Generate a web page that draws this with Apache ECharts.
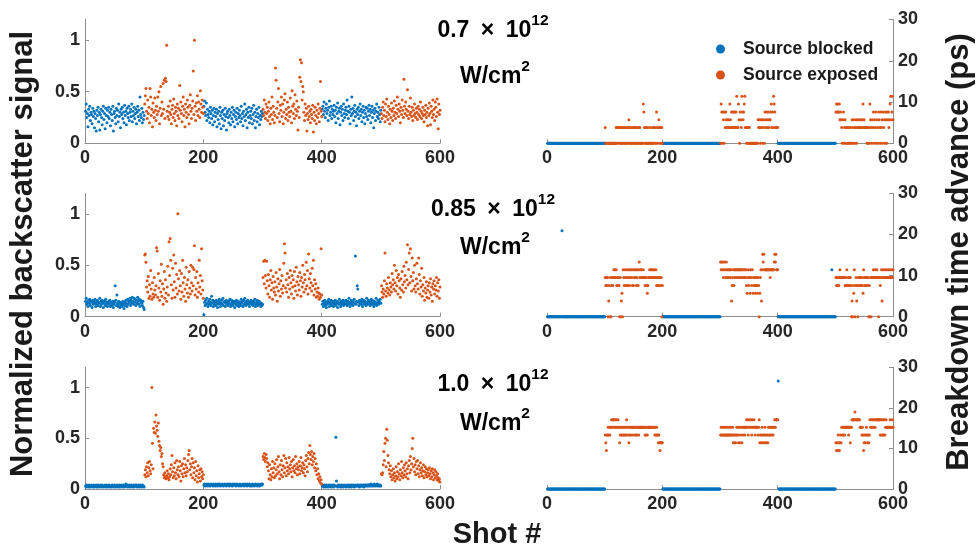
<!DOCTYPE html>
<html>
<head>
<meta charset="utf-8">
<title>Backscatter signal and breakdown time advance vs shot</title>
<script src="https://cdn.jsdelivr.net/npm/echarts@6/dist/echarts.min.js"></script>
<style>
  html, body { margin: 0; padding: 0; background: #fff; }
  #chart { width: 979px; height: 548px; }
</style>
</head>
<body>
<div id="chart"></div>
<script>
// Shot numbering: 600 shots, source alternates blocked/exposed every 100 shots (starting blocked).
const SHOT_COUNT = 600;
const BLOCK_LENGTH = 100;
const SERIES_NAMES = ['Source blocked', 'Source exposed'];
const INTENSITIES = ['0.7', '0.85', '1.0'];
const X_TICKS = [0, 200, 400, 600];
const SIGNAL_TICKS = [0, 0.5, 1];
const ADVANCE_TICKS = [0, 10, 20, 30];

// Normalized backscatter signal, shots 1..600, at 0.7e12 W/cm^2
const sig07 = [
.31,.38,.25,.29,.16,.33,.27,.36,.22,.30,.28,.19,.34,.26,.31,.15,.29,.24,.12,.32,
.27,.35,.21,.30,.13,.28,.33,.25,.18,.31,.36,.23,.29,.14,.34,.27,.20,.32,.26,.35,
.24,.30,.17,.33,.28,.22,.36,.12,.29,.31,.25,.19,.34,.27,.32,.21,.38,.26,.30,.15,
.33,.28,.35,.24,.30,.20,.37,.27,.31,.18,.34,.29,.25,.36,.22,.30,.33,.26,.38,.21,
.31,.27,.35,.24,.29,.33,.19,.30,.36,.26,.32,.22,.45,.28,.25,.34,.20,.30,.23,.27,
.38,.46,.53,.31,.24,.42,.29,.35,.20,.53,.45,.27,.33,.16,.39,.30,.25,.44,.32,.22,
.36,.28,.45,.31,.50,.19,.34,.55,.27,.40,.29,.58,.33,.61,.24,.63,.60,.95,.31,.26,
.36,.23,.30,.41,.28,.19,.33,.37,.25,.43,.29,.22,.35,.31,.17,.38,.27,.34,.24,.56,
.32,.40,.29,.21,.36,.45,.27,.33,.16,.38,.30,.25,.42,.35,.28,.19,.37,.47,.31,.24,
.34,.41,.70,.28,1.0,.36,.22,.39,.31,.46,.27,.40,.33,.25,.51,.38,.30,.42,.35,.29,
.36,.41,.30,.27,.39,.22,.33,.28,.25,.31,.20,.35,.29,.24,.32,.18,.27,.34,.21,.30,
.26,.33,.16,.29,.23,.31,.19,.35,.27,.14,.30,.24,.32,.17,.28,.22,.34,.26,.13,.29,
.31,.25,.20,.33,.27,.18,.30,.24,.35,.21,.28,.32,.16,.26,.30,.23,.34,.19,.29,.25,
.32,.27,.21,.36,.24,.29,.17,.31,.26,.38,.22,.28,.33,.15,.30,.25,.35,.20,.27,.31,
.24,.34,.19,.28,.37,.22,.30,.15,.26,.33,.21,.29,.25,.35,.18,.27,.23,.31,.26,.29,
.33,.27,.42,.30,.24,.38,.29,.35,.22,.31,.40,.26,.19,.34,.28,.45,.23,.36,.30,.20,
.27,.73,.61,.34,.25,.40,.53,.29,.21,.37,.32,.45,.26,.38,.19,.30,.42,.48,.24,.33,
.28,.40,.22,.35,.30,.26,.44,.31,.20,.51,.36,.29,.38,.24,.47,.33,.27,.41,.31,.13,
.35,.25,.64,.81,.60,.78,.42,.55,.50,.30,.22,.38,.27,.34,.12,.29,.23,.36,.26,.31,
.20,.33,.28,.24,.37,.11,.30,.22,.35,.27,.19,.32,.25,.38,.29,.21,.34,.60,.31,.26,
.33,.36,.28,.40,.31,.25,.34,.38,.29,.32,.22,.35,.41,.27,.30,.36,.24,.33,.28,.31,
.37,.26,.32,.20,.35,.29,.39,.24,.31,.34,.18,.30,.36,.27,.33,.22,.38,.29,.25,.32,
.35,.28,.42,.31,.24,.36,.30,.19,.33,.27,.45,.29,.34,.22,.31,.37,.26,.30,.17,.33,
.28,.35,.24,.31,.38,.27,.33,.21,.30,.36,.25,.32,.19,.29,.35,.26,.34,.23,.31,.37,
.27,.33,.20,.30,.36,.25,.32,.15,.29,.34,.22,.31,.38,.26,.30,.24,.35,.28,.21,.32,
.29,.24,.35,.40,.27,.32,.21,.38,.26,.43,.30,.23,.36,.28,.19,.33,.25,.39,.31,.22,
.34,.27,.41,.30,.24,.37,.29,.45,.33,.26,.38,.31,.20,.35,.28,.42,.32,.25,.62,.36,
.29,.40,.33,.27,.52,.31,.24,.36,.28,.44,.30,.26,.35,.22,.32,.27,.38,.29,.25,.34,
.30,.23,.36,.28,.33,.26,.40,.31,.24,.29,.35,.27,.21,.32,.28,.37,.25,.30,.17,.34,
.27,.39,.29,.18,.36,.31,.25,.42,.28,.33,.22,.40,.35,.26,.43,.30,.14,.38,.28,.32
];

// Breakdown time advance (ps), shots 1..600, at 0.7e12 W/cm^2
const adv07 = [
0,0,0,0,0,0,0,0,0,0,0,0,0,0,0,0,0,0,0,0,
0,0,0,0,0,0,0,0,0,0,0,0,0,0,0,0,0,0,0,0,
0,0,0,0,0,0,0,0,0,0,0,0,0,0,0,0,0,0,0,0,
0,0,0,0,0,0,0,0,0,0,0,0,0,0,0,0,0,0,0,0,
0,0,0,0,0,0,0,0,0,0,0,0,0,0,0,0,0,0,0,0,
3.8,0,0,0,0,0,0,0,0,0,0,0,0,0,0,0,0,0,0,3.8,
0,3.8,0,3.8,3.8,0,3.8,0,3.8,0,0,3.8,0,3.8,0,3.8,0,0,3.8,0,
3.8,5.7,0,3.8,0,0,3.8,0,0,3.8,3.8,0,0,3.8,0,0,3.8,0,0,3.8,
3.8,0,0,0,0,0,9.5,7.6,3.8,0,0,3.8,0,0,3.8,0,0,0,3.8,0,
0,0,3.8,0,0,3.8,3.8,0,0,7.6,3.8,0,3.8,5.7,3.8,0,3.8,0,3.8,0,
0,0,0,0,0,0,0,0,0,0,0,0,0,0,0,0,0,0,0,0,
0,0,0,0,0,0,0,0,0,0,0,0,0,0,0,0,0,0,0,0,
0,0,0,0,0,0,0,0,0,0,0,0,0,0,0,0,0,0,0,0,
0,0,0,0,0,0,0,0,0,0,0,0,0,0,0,0,0,0,0,0,
0,0,0,0,0,0,0,0,0,0,0,0,0,0,0,0,0,0,0,0,
0,9.5,7.6,0,7.6,5.7,0,7.6,3.8,7.6,
5.7,3.8,5.7,3.8,5.7,3.8,9.5,5.7,3.8,7.6,
3.8,7.6,3.8,7.6,3.8,7.6,3.8,7.6,11.4,3.8,
3.8,9.5,5.7,0,7.6,5.7,3.8,11.4,7.6,5.7,
7.6,9.5,11.4,3.8,3.8,0,3.8,0,3.8,0,
3.8,0,0,0,0,0,0,0,0,0,
0,0,0,0,0,5.7,3.8,5.7,3.8,0,
5.7,3.8,5.7,0,3.8,5.7,0,7.6,3.8,5.7,
7.6,3.8,5.7,7.6,3.8,5.7,5.7,7.6,9.5,3.8,
7.6,3.8,11.4,9.5,7.6,3.8,3.8,3.8,3.8,3.8,
0,0,0,0,0,0,0,0,0,0,0,0,0,0,0,0,0,0,0,0,
0,0,0,0,0,0,0,0,0,0,0,0,0,0,0,0,0,0,0,0,
0,0,0,0,0,0,0,0,0,0,0,0,0,0,0,0,0,0,0,0,
0,0,0,0,0,0,0,0,0,0,0,0,0,0,0,0,0,0,0,0,
0,0,0,0,0,0,0,0,0,0,0,0,0,0,0,0,0,0,0,0,
7.6,9.5,7.6,9.5,7.6,7.6,9.5,5.7,7.6,5.7,
3.8,0,5.7,7.6,0,3.8,5.7,0,3.8,0,
3.8,0,0,3.8,0,3.8,0,0,5.7,3.8,
0,5.7,3.8,0,3.8,5.7,0,3.8,5.7,3.8,
3.8,5.7,3.8,3.8,5.7,3.8,5.7,9.5,3.8,5.7,
3.8,3.8,3.8,3.8,0,3.8,0,3.8,0,9.5,
5.7,3.8,0,5.7,3.8,7.6,0,5.7,3.8,7.6,
0,5.7,3.8,0,7.6,5.7,3.8,0,7.6,3.8,
5.7,0,7.6,3.8,5.7,0,7.6,5.7,0,7.6,
5.7,7.6,3.8,5.7,9.5,11.4,5.7,7.6,11.4,5.7
];

// Normalized backscatter signal, shots 1..600, at 0.85e12 W/cm^2
const sig085 = [
.15,.18,.12,.14,.10,.16,.13,.17,.11,.15,.14,.09,.16,.12,.15,.13,.17,.10,.14,.12,
.16,.11,.14,.13,.18,.10,.15,.12,.16,.14,.09,.13,.15,.11,.17,.12,.14,.10,.13,.15,
.12,.16,.10,.14,.11,.13,.15,.09,.12,.14,.30,.16,.11,.21,.13,.10,.15,.12,.09,.14,
.11,.13,.10,.15,.12,.08,.14,.11,.16,.13,.10,.17,.12,.15,.14,.18,.11,.16,.13,.19,
.15,.12,.18,.14,.17,.11,.16,.13,.19,.15,.12,.17,.10,.16,.14,.13,.11,.15,.09,.07,
.60,.61,.53,.29,.35,.24,.39,.18,.31,.20,.45,.27,.17,.33,.22,.19,.38,.26,.21,.30,
.67,.64,.19,.42,.28,.16,.35,.24,.51,.20,.32,.12,.27,.44,.18,.36,.23,.15,.29,.49,
.21,.73,.40,.76,.55,.31,.18,.47,.26,.60,.34,.19,.52,.28,.41,.22,1.0,.37,.25,.45,
.30,.17,.42,.24,.55,.33,.20,.38,.27,.15,.48,.31,.23,.36,.19,.44,.28,.22,.50,.33,
.25,.48,.30,.46,.69,.21,.38,.27,.44,.19,.33,.24,.55,.29,.40,.22,.66,.35,.26,.18,
.02,.14,.11,.16,.12,.18,.13,.10,.15,.12,.17,.14,.11,.20,.13,.16,.10,.14,.12,.15,
.11,.16,.13,.09,.15,.12,.17,.14,.10,.13,.16,.12,.18,.11,.14,.15,.10,.13,.16,.12,
.14,.11,.15,.13,.17,.10,.12,.16,.14,.11,.13,.15,.09,.14,.12,.16,.11,.13,.15,.10,
.12,.14,.11,.17,.13,.15,.10,.16,.12,.18,.14,.11,.15,.13,.16,.12,.14,.10,.13,.15,
.16,.12,.14,.11,.15,.13,.17,.10,.12,.14,.16,.11,.13,.15,.12,.14,.10,.13,.11,.12,
.38,.54,.32,.55,.40,.28,.54,.35,.22,.41,.30,.19,.36,.45,.26,.33,.17,.39,.28,.24,
.34,.21,.43,.29,.15,.37,.25,.32,.46,.20,.35,.27,.40,.23,.30,.52,.71,.62,.28,.36,
.24,.42,.31,.19,.38,.27,.45,.33,.22,.40,.29,.36,.18,.44,.30,.25,.48,.34,.21,.39,
.31,.26,.43,.35,.20,.38,.29,.50,.33,.24,.41,.36,.27,.53,.30,.45,.22,.61,.37,.28,
.42,.33,.25,.47,.30,.55,.21,.36,.27,.32,.19,.24,.20,.28,.23,.17,.22,.19,.66,.21,
.12,.15,.10,.13,.16,.11,.14,.09,.12,.15,.13,.17,.10,.14,.12,.16,.11,.13,.15,.10,
.14,.12,.16,.11,.13,.15,.09,.14,.12,.17,.13,.10,.15,.12,.14,.16,.11,.13,.15,.12,
.16,.13,.11,.15,.12,.18,.14,.10,.13,.16,.12,.15,.11,.14,.17,.13,.59,.12,.15,.30,
.27,.14,.11,.16,.13,.15,.12,.17,.10,.14,.16,.12,.15,.13,.11,.18,.14,.12,.16,.13,
.15,.11,.14,.17,.12,.16,.13,.10,.15,.12,.14,.18,.11,.13,.16,.12,.15,.14,.17,.13,
.30,.24,.19,.27,.22,.35,.62,.25,.20,.32,.28,.23,.38,.26,.21,.33,.29,.24,.42,.31,
.36,.27,.50,.33,.25,.45,.30,.38,.22,.41,.35,.28,.19,.37,.26,.44,.31,.24,.49,.34,
.40,.28,.53,.36,.70,.31,.46,.62,.33,.66,.39,.25,.57,.35,.43,.27,.50,.30,.24,.37,
.52,.32,.27,.57,.41,.22,.35,.29,.47,.20,.31,.25,.38,.16,.28,.23,.34,.19,.26,.30,
.18,.33,.24,.37,.21,.29,.15,.32,.27,.35,.22,.30,.26,.38,.20,.33,.25,.36,.18,.29
];

// Breakdown time advance (ps), shots 1..600, at 0.85e12 W/cm^2
const adv085 = [
0,0,0,0,0,0,0,0,0,0,0,0,0,0,0,0,0,0,0,0,
0,0,0,0,0,20.9,0,0,0,0,0,0,0,0,0,0,0,0,0,0,
0,0,0,0,0,0,0,0,0,0,0,0,0,0,0,0,0,0,0,0,
0,0,0,0,0,0,0,0,0,0,0,0,0,0,0,0,0,0,0,0,
0,0,0,0,0,0,0,0,0,0,0,0,0,0,0,0,0,0,0,0,
9.5,7.6,9.5,7.6,9.5,0,3.8,7.6,0,9.5,
0,7.6,9.5,7.6,9.5,11.4,9.5,11.4,9.5,11.4,
7.6,9.5,7.6,9.5,7.6,0,9.5,0,3.8,5.7,
0,11.4,9.5,7.6,11.4,9.5,7.6,11.4,9.5,7.6,
11.4,9.5,7.6,11.4,9.5,11.4,9.5,7.6,11.4,7.6,
9.5,11.4,9.5,11.4,7.6,9.5,11.4,7.6,11.4,13.3,
9.5,11.4,9.5,11.4,9.5,9.5,11.4,9.5,9.5,7.6,
9.5,9.5,7.6,5.7,7.6,9.5,9.5,11.4,9.5,11.4,
9.5,11.4,9.5,11.4,9.5,11.4,9.5,9.5,11.4,7.6,
9.5,7.6,9.5,7.6,9.5,9.5,7.6,9.5,0,7.6,
0,0,0,0,0,0,0,0,0,0,0,0,0,0,0,0,0,0,0,0,
0,0,0,0,0,0,0,0,0,0,0,0,0,0,0,0,0,0,0,0,
0,0,0,0,0,0,0,0,0,0,0,0,0,0,0,0,0,0,0,0,
0,0,0,0,0,0,0,0,0,0,0,0,0,0,0,0,0,0,0,0,
0,0,0,0,0,0,0,0,0,0,0,0,0,0,0,0,0,0,0,0,
13.3,11.4,13.3,11.4,13.3,9.5,11.4,13.3,11.4,9.5,
13.3,11.4,9.5,11.4,9.5,11.4,11.4,9.5,11.4,3.8,
7.6,9.5,11.4,7.6,11.4,9.5,11.4,11.4,9.5,11.4,
11.4,9.5,11.4,11.4,9.5,11.4,11.4,9.5,11.4,9.5,
11.4,9.5,11.4,9.5,11.4,7.6,5.7,9.5,11.4,7.6,
9.5,5.7,11.4,9.5,7.6,11.4,5.7,9.5,7.6,9.5,
5.7,7.6,9.5,7.6,5.7,9.5,7.6,0,5.7,9.5,
11.4,3.8,11.4,15.2,13.3,15.2,11.4,11.4,11.4,11.4,
11.4,11.4,11.4,11.4,11.4,11.4,9.5,11.4,11.4,11.4,
11.4,11.4,11.4,13.3,15.2,13.3,15.2,11.4,11.4,11.4,
0,0,0,0,0,0,0,0,0,0,0,0,0,0,0,0,0,0,0,0,
0,0,0,0,0,0,0,0,0,0,0,0,0,0,0,0,0,0,0,0,
0,0,0,0,0,0,0,0,0,0,0,0,0,0,0,0,0,0,0,0,
0,0,0,0,0,0,0,0,0,0,0,0,0,0,0,0,0,0,0,0,
0,0,0,0,0,0,0,0,0,0,0,0,0,11.4,0,0,0,0,0,0,
9.5,7.6,9.5,7.6,9.5,7.6,9.5,11.4,9.5,9.5,
9.5,9.5,9.5,9.5,9.5,9.5,7.6,9.5,7.6,11.4,
7.6,9.5,7.6,9.5,7.6,9.5,7.6,0,3.8,0,
7.6,5.7,11.4,0,7.6,9.5,3.8,7.6,0,9.5,
7.6,9.5,7.6,9.5,7.6,9.5,7.6,5.7,11.4,9.5,
7.6,9.5,7.6,9.5,9.5,7.6,9.5,0,7.6,0,
9.5,0,9.5,9.5,9.5,11.4,9.5,9.5,11.4,9.5,
9.5,11.4,9.5,9.5,0,9.5,9.5,7.6,9.5,11.4,
3.8,9.5,11.4,9.5,9.5,11.4,9.5,9.5,11.4,9.5,
9.5,11.4,9.5,9.5,11.4,9.5,9.5,11.4,9.5,11.4
];

// Normalized backscatter signal, shots 1..600, at 1.0e12 W/cm^2
const sig10 = [
.03,.02,.04,.03,.03,.02,.04,.03,.02,.03,.04,.03,.02,.03,.04,.02,.03,.03,.04,.02,
.03,.04,.02,.03,.03,.04,.02,.03,.04,.03,.02,.03,.03,.04,.02,.03,.04,.02,.03,.03,
.04,.02,.03,.03,.02,.04,.03,.03,.02,.04,.03,.02,.03,.04,.03,.02,.03,.04,.02,.03,
.03,.04,.02,.03,.04,.03,.02,.03,.05,.03,.04,.02,.03,.03,.04,.02,.03,.04,.03,.02,
.03,.04,.02,.03,.04,.03,.04,.02,.03,.03,.04,.02,.03,.04,.03,.02,.04,.03,.03,.02,
.14,.19,.12,.22,.16,.26,.13,.21,.27,.18,.15,.24,1.0,.45,.20,.60,.56,.66,.55,.73,
.62,.58,.52,.65,.47,.43,.38,.41,.32,.35,.25,.22,.14,.11,.16,.12,.10,.13,.18,.11,
.15,.09,.12,.20,.14,.24,.33,.17,.11,.21,.13,.26,.16,.10,.28,.19,.14,.22,.12,.27,
.18,.08,.23,.15,.25,.12,.20,.30,.16,.24,.13,.21,.17,.28,.34,.38,.19,.25,.14,.22,
.30,.11,.26,.16,.21,.09,.27,.13,.18,.07,.23,.11,.15,.19,.08,.20,.12,.17,.10,.14,
.04,.05,.03,.04,.04,.05,.03,.04,.05,.04,.03,.04,.05,.04,.04,.03,.05,.04,.04,.03,
.05,.04,.04,.03,.05,.04,.04,.05,.03,.04,.04,.05,.04,.03,.04,.05,.04,.04,.03,.05,
.04,.04,.05,.03,.04,.05,.04,.04,.03,.05,.04,.04,.05,.04,.03,.04,.05,.04,.04,.03,
.04,.05,.04,.03,.04,.04,.05,.04,.03,.04,.05,.04,.04,.03,.05,.04,.04,.05,.03,.04,
.04,.03,.05,.04,.04,.03,.04,.05,.04,.04,.03,.04,.05,.04,.03,.04,.04,.05,.04,.05,
.32,.29,.35,.31,.27,.34,.30,.22,.26,.18,.10,.24,.14,.09,.20,.12,.27,.16,.21,.11,
.25,.13,.19,.29,.15,.22,.32,.17,.10,.24,.14,.28,.19,.12,.23,.33,.16,.21,.30,.13,
.26,.18,.22,.15,.31,.20,.24,.17,.27,.12,.21,.29,.18,.23,.16,.32,.20,.25,.14,.22,
.19,.27,.15,.23,.31,.18,.21,.26,.16,.24,.20,.13,.28,.33,.22,.17,.30,.36,.25,.43,
.34,.29,.37,.24,.32,.27,.35,.21,.30,.18,.25,.14,.20,.10,.15,.08,.12,.06,.09,.05,
.03,.04,.02,.03,.04,.03,.02,.04,.03,.03,.02,.04,.03,.03,.04,.02,.03,.04,.03,.02,
.04,.03,.03,.51,.08,.03,.02,.04,.03,.03,.04,.02,.03,.04,.03,.02,.03,.04,.03,.03,
.02,.04,.03,.03,.04,.02,.03,.04,.03,.02,.04,.03,.03,.04,.02,.03,.04,.03,.03,.04,
.03,.04,.03,.02,.04,.03,.04,.03,.03,.04,.02,.04,.03,.04,.03,.04,.03,.04,.04,.03,
.04,.03,.05,.04,.03,.04,.04,.03,.05,.04,.03,.04,.04,.05,.03,.04,.04,.03,.04,.03,
.15,.14,.16,.24,.37,.28,.45,.50,.22,.59,.48,.33,.26,.19,.15,.23,.12,.18,.09,.14,
.20,.11,.16,.08,.13,.22,.10,.17,.12,.25,.15,.09,.19,.13,.27,.16,.11,.21,.14,.24,
.18,.12,.26,.15,.20,.10,.23,.28,.16,.32,.19,.25,.40,.50,.22,.30,.17,.24,.14,.27,
.20,.28,.15,.23,.12,.19,.26,.16,.21,.13,.18,.24,.11,.17,.22,.14,.20,.12,.16,.19,
.13,.21,.15,.10,.18,.12,.20,.16,.09,.14,.19,.11,.17,.13,.09,.15,.11,.08,.10,.07
];

// Breakdown time advance (ps), shots 1..600, at 1.0e12 W/cm^2
const adv10 = [
0,0,0,0,0,0,0,0,0,0,0,0,0,0,0,0,0,0,0,0,
0,0,0,0,0,0,0,0,0,0,0,0,0,0,0,0,0,0,0,0,
0,0,0,0,0,0,0,0,0,0,0,0,0,0,0,0,0,0,0,0,
0,0,0,0,0,0,0,0,0,0,0,0,0,0,0,0,0,0,0,0,
0,0,0,0,0,0,0,0,0,0,0,0,0,0,0,0,0,0,0,0,
13.3,11.4,9.5,13.3,13.3,15.2,13.3,15.2,13.3,15.2,
15.2,17.1,15.2,17.1,17.1,15.2,17.1,15.2,17.1,15.2,
17.1,15.2,17.1,15.2,15.2,11.4,13.3,15.2,13.3,15.2,
13.3,15.2,13.3,15.2,13.3,15.2,13.3,17.1,15.2,13.3,
15.2,11.4,13.3,15.2,13.3,15.2,15.2,13.3,15.2,15.2,
15.2,13.3,15.2,13.3,15.2,13.3,15.2,15.2,13.3,15.2,
15.2,15.2,15.2,15.2,15.2,15.2,15.2,15.2,15.2,13.3,
15.2,13.3,15.2,13.3,15.2,15.2,15.2,15.2,15.2,15.2,
15.2,15.2,15.2,15.2,15.2,15.2,13.3,15.2,13.3,15.2,
13.3,13.3,11.4,13.3,11.4,9.5,11.4,11.4,11.4,11.4,
0,0,0,0,0,0,0,0,0,0,0,0,0,0,0,0,0,0,0,0,
0,0,0,0,0,0,0,0,0,0,0,0,0,0,0,0,0,0,0,0,
0,0,0,0,0,0,0,0,0,0,0,0,0,0,0,0,0,0,0,0,
0,0,0,0,0,0,0,0,0,0,0,0,0,0,0,0,0,0,0,0,
0,0,0,0,0,0,0,0,0,0,0,0,0,0,0,0,0,0,0,0,
13.3,15.2,13.3,13.3,15.2,13.3,15.2,13.3,13.3,15.2,
13.3,13.3,15.2,13.3,13.3,15.2,13.3,13.3,15.2,13.3,
13.3,15.2,11.4,13.3,11.4,13.3,11.4,13.3,15.2,13.3,
15.2,11.4,13.3,15.2,11.4,15.2,13.3,11.4,15.2,13.3,
15.2,15.2,13.3,15.2,15.2,17.1,15.2,17.1,13.3,15.2,
17.1,15.2,17.1,15.2,13.3,17.1,15.2,15.2,17.1,15.2,
13.3,15.2,15.2,15.2,15.2,13.3,15.2,17.1,11.4,13.3,
11.4,13.3,15.2,11.4,13.3,11.4,13.3,15.2,11.4,13.3,
11.4,13.3,11.4,15.2,13.3,15.2,13.3,15.2,15.2,13.3,
15.2,13.3,15.2,15.2,17.1,15.2,17.1,17.1,17.1,17.1,
26.6,0,0,0,0,0,0,0,0,0,0,0,0,0,0,0,0,0,0,0,
0,0,0,0,0,0,0,0,0,0,0,0,0,0,0,0,0,0,0,0,
0,0,0,0,0,0,0,0,0,0,0,0,0,0,0,0,0,0,0,0,
0,0,0,0,0,0,0,0,0,0,0,0,0,0,0,0,0,0,0,0,
0,0,0,0,0,0,0,0,0,0,0,0,0,0,0,0,0,0,0,0,
11.4,9.5,11.4,9.5,13.3,11.4,9.5,11.4,13.3,11.4,
15.2,13.3,15.2,13.3,15.2,13.3,15.2,15.2,15.2,15.2,
15.2,15.2,13.3,15.2,15.2,11.4,15.2,15.2,17.1,17.1,
17.1,17.1,17.1,19.0,17.1,17.1,17.1,17.1,17.1,17.1,
17.1,17.1,15.2,15.2,15.2,13.3,15.2,13.3,9.5,11.4,
13.3,11.4,13.3,15.2,13.3,11.4,13.3,11.4,13.3,17.1,
15.2,17.1,15.2,17.1,15.2,17.1,15.2,17.1,15.2,17.1,
17.1,17.1,17.1,17.1,17.1,17.1,17.1,13.3,17.1,13.3,
17.1,13.3,17.1,13.3,17.1,13.3,15.2,17.1,15.2,15.2,
15.2,15.2,15.2,15.2,17.1,15.2,15.2,15.2,17.1,15.2
];

// ---- styling ----
const FONT = "'Liberation Sans', Arial, Helvetica, sans-serif";
const BLUE = '#0072BD';
const ORANGE = '#D95319';
const AXIS_GRAY = '#8f8f8f';
const TICK_TEXT = '#262626';
const TITLE_TEXT = '#1a1a1a';

// row layout (px): top and height of each row of panels
const ROW_TOP = [19.5, 193.3, 367.3];
const ROW_HEIGHT = [123.8, 123.4, 121.7];
const LEFT_GRID = { left: 85, width: 355 };
const RIGHT_GRID = { left: 547, width: 346 };

const PANELS = [
  { intensity: INTENSITIES[0], signal: sig07, advance: adv07, labelY: [31, 77] },
  { intensity: INTENSITIES[1], signal: sig085, advance: adv085, labelY: [210, 248] },
  { intensity: INTENSITIES[2], signal: sig10, advance: adv10, labelY: [385, 424] }
];

function isBlocked(shot) {
  return Math.floor((shot - 1) / BLOCK_LENGTH) % 2 === 0;
}

function splitBySource(values) {
  const blocked = [], exposed = [];
  values.forEach((v, i) => {
    const shot = i + 1;
    (isBlocked(shot) ? blocked : exposed).push([shot, v]);
  });
  return { blocked, exposed };
}

function scatter(name, color, axisIndex, data) {
  return {
    type: 'scatter',
    name,
    xAxisIndex: axisIndex,
    yAxisIndex: axisIndex,
    data,
    symbol: 'circle',
    symbolSize: 3,
    itemStyle: { color, opacity: 1 },
    clip: false,
    silent: true,
    emphasis: { disabled: true }
  };
}

const tickLabelStyle = {
  color: TICK_TEXT,
  fontFamily: FONT,
  fontWeight: 'bold',
  fontSize: 18
};

function xAxisFor(gridIndex) {
  return {
    type: 'value',
    gridIndex,
    min: X_TICKS[0],
    max: X_TICKS[X_TICKS.length - 1],
    interval: 200,
    axisLine: { show: true, onZero: false, lineStyle: { color: AXIS_GRAY, width: 1 } },
    axisTick: { show: true, inside: true, length: 4, lineStyle: { color: AXIS_GRAY } },
    axisLabel: Object.assign({ margin: 6 }, tickLabelStyle),
    splitLine: { show: false }
  };
}

const option = {
  animation: false,
  backgroundColor: '#ffffff',
  textStyle: { fontFamily: FONT },
  grid: [],
  xAxis: [],
  yAxis: [],
  series: [],
  legend: {
    data: SERIES_NAMES,
    orient: 'vertical',
    left: 711,
    top: 35,
    icon: 'circle',
    itemWidth: 9,
    itemHeight: 9,
    itemGap: 8,
    selectedMode: false,
    textStyle: {
      fontFamily: FONT,
      fontWeight: 'bold',
      fontSize: 17.5,
      color: TITLE_TEXT,
      padding: [0, 0, 0, 13]
    }
  },
  graphic: []
};

PANELS.forEach((p, i) => {
  const gl = option.grid.length;
  const gr = gl + 1;
  option.grid.push({ left: LEFT_GRID.left, width: LEFT_GRID.width, top: ROW_TOP[i], height: ROW_HEIGHT[i] });
  option.grid.push({ left: RIGHT_GRID.left, width: RIGHT_GRID.width, top: ROW_TOP[i], height: ROW_HEIGHT[i] });

  option.xAxis.push(xAxisFor(gl), xAxisFor(gr));

  option.yAxis.push({
    type: 'value',
    gridIndex: gl,
    min: 0,
    max: 1.2,
    position: 'left',
    axisLine: { show: true, onZero: false, lineStyle: { color: AXIS_GRAY, width: 1 } },
    axisTick: { show: true, inside: true, length: 4, lineStyle: { color: AXIS_GRAY }, customValues: SIGNAL_TICKS },
    axisLabel: Object.assign({ margin: 5, customValues: SIGNAL_TICKS }, tickLabelStyle),
    splitLine: { show: false }
  });
  option.yAxis.push({
    type: 'value',
    gridIndex: gr,
    min: ADVANCE_TICKS[0],
    max: ADVANCE_TICKS[ADVANCE_TICKS.length - 1],
    interval: 10,
    position: 'right',
    axisLine: { show: true, onZero: false, lineStyle: { color: AXIS_GRAY, width: 1 } },
    axisTick: { show: true, inside: true, length: 4, lineStyle: { color: AXIS_GRAY } },
    axisLabel: Object.assign({ margin: 5 }, tickLabelStyle),
    splitLine: { show: false }
  });

  const sig = splitBySource(p.signal);
  const adv = splitBySource(p.advance);
  option.series.push(
    scatter(SERIES_NAMES[0], BLUE, gl, sig.blocked),
    scatter(SERIES_NAMES[1], ORANGE, gl, sig.exposed),
    scatter(SERIES_NAMES[0], BLUE, gr, adv.blocked),
    scatter(SERIES_NAMES[1], ORANGE, gr, adv.exposed)
  );

  // intensity annotation between the two panels of this row
  const rich = {
    m: { fontFamily: FONT, fontWeight: 'bold', fontSize: 23, lineHeight: 36, fill: '#000' },
    s: { fontFamily: FONT, fontWeight: 'bold', fontSize: 15.5, verticalAlign: 'top', fill: '#000' }
  };
  option.graphic.push({
    type: 'text', x: 493, y: p.labelY[0], silent: true,
    style: { text: '{m|' + p.intensity + '\u2002×\u200210}{s|12}', rich, align: 'center', verticalAlign: 'middle' }
  });
  option.graphic.push({
    type: 'text', x: 495, y: p.labelY[1], silent: true,
    style: { text: '{m|W/cm}{s|2}', rich, align: 'center', verticalAlign: 'middle' }
  });
});

// shared axis titles
option.graphic.push(
  {
    type: 'text', x: 497, y: 535, silent: true,
    style: { text: 'Shot #', font: "bold 29px " + FONT, fill: TITLE_TEXT, align: 'center', verticalAlign: 'middle' }
  },
  {
    type: 'text', x: 23, y: 254, rotation: Math.PI / 2, silent: true,
    style: { text: 'Normalized backscatter signal', font: "bold 31px " + FONT, fill: TITLE_TEXT, align: 'center', verticalAlign: 'middle' }
  },
  {
    type: 'text', x: 959, y: 252, rotation: Math.PI / 2, silent: true,
    style: { text: 'Breakdown time advance (ps)', font: "bold 31px " + FONT, fill: TITLE_TEXT, align: 'center', verticalAlign: 'middle' }
  }
);

const chart = echarts.init(document.getElementById('chart'), null, { renderer: 'canvas' });
chart.setOption(option);

// sanity check on the per-shot arrays
[['sig07', sig07], ['adv07', adv07], ['sig085', sig085], ['adv085', adv085], ['sig10', sig10], ['adv10', adv10]]
  .forEach(([name, arr]) => {
    if (arr.length !== SHOT_COUNT) throw new Error(name + ' has ' + arr.length + ' values');
  });
</script>
</body>
</html>
